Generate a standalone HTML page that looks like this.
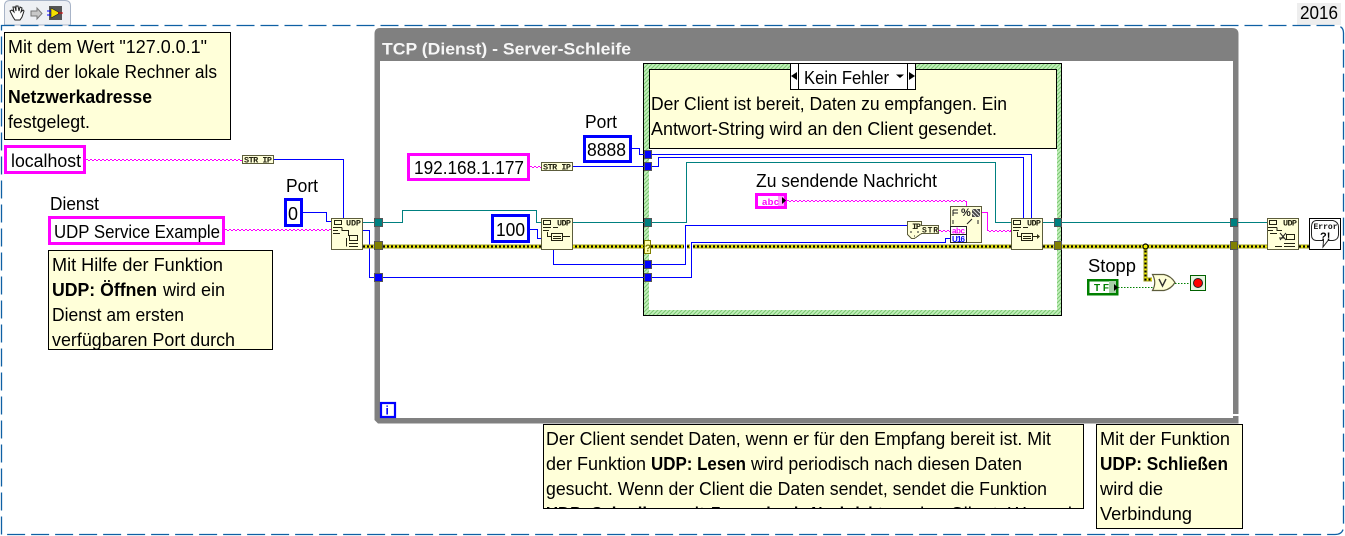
<!DOCTYPE html>
<html><head><meta charset="utf-8">
<style>
html,body{margin:0;padding:0;background:#fff;width:1345px;height:536px;overflow:hidden}
svg{display:block}
text{font-family:"Liberation Sans",sans-serif;font-size:18.5px;fill:#000;white-space:pre}
.b{font-weight:bold}
.t{font-family:"Liberation Mono",monospace;font-size:8.5px;font-weight:bold;fill:#222210}
.w{fill:none;shape-rendering:crispEdges}
.blue{stroke:#0000ff;stroke-width:1}
.teal{stroke:#008080;stroke-width:1}
.pk1{stroke:#ff00ff;stroke-width:1;stroke-dasharray:2 2}
.pk2{stroke:#ff00ff;stroke-width:1;stroke-dasharray:2 2;stroke-dashoffset:2}
.pk3{stroke:#ff00ff;stroke-width:1}
.term{stroke:#555;stroke-width:1;shape-rendering:crispEdges}
.node{fill:#ffffd8;stroke:#5c5c3c;stroke-width:1.4;shape-rendering:crispEdges}
.ic{fill:none;stroke:#222210;stroke-width:1;shape-rendering:crispEdges}
.note{fill:#ffffd9;stroke:#000;stroke-width:1;shape-rendering:crispEdges}
.mag{fill:#fff;stroke:#ff00ff;stroke-width:3;shape-rendering:crispEdges}
.blu{fill:#fff;stroke:#0000ff;stroke-width:3;shape-rendering:crispEdges}
</style></head><body>
<svg width="1345" height="536" viewBox="0 0 1345 536" xmlns="http://www.w3.org/2000/svg">
<defs>
<pattern id="h" width="4" height="4" patternUnits="userSpaceOnUse">
<rect width="4" height="4" fill="#c4f0bc"/>
<path d="M0 4L4 0M-1 1L1 -1M3 5L5 3" stroke="#7cc874" stroke-width="1.1"/>
</pattern>
<clipPath id="c4"><rect x="544" y="425" width="540" height="84"/></clipPath>
<clipPath id="c3"><rect x="49" y="251" width="224" height="98"/></clipPath>
</defs>
<rect width="1345" height="536" fill="#fff"/>

<!-- tabs -->
<path d="M4.5 25V6Q4.5 0.5 10 0.5H65Q70.5 0.5 70.5 6V25Z" fill="#eef0f4" stroke="#a8b4c8"/>
<rect x="1297" y="3" width="44" height="22" fill="#eeeeee"/>
<!-- dashed frame -->
<path d="M1.5 534.5V25.5H1335Q1343.5 25.5 1343.5 33V526Q1343.5 534.5 1335 534.5Z" fill="none" stroke="#0f60a4" stroke-width="1.3" stroke-dasharray="18 6"/>
<text x="1300" y="19" textLength="38" lengthAdjust="spacingAndGlyphs">2016</text>

<!-- toolbar icons -->
<path d="M13 17L10 11L12 10L14 12L13 7L15 7L16 11L16 6L18 6L19 11L20 7L22 8L21 12L23 10L24 11L22 17L20 20H15Z" fill="#fff" stroke="#222" stroke-width="1"/>
<path d="M31 11H37V8L42 13.5L37 19V16H31Z" fill="#c8c8c8" stroke="#777"/>
<rect x="49" y="6" width="13" height="14" fill="#555"/>
<path d="M51 8L60 13L51 18Z" fill="#f4e000" stroke="#222" stroke-width=".6"/>
<path d="M47 11H51M47 15H51" stroke="#0000ff"/><path d="M58 13H63" stroke="#e00000"/>

<!-- while loop -->
<path fill-rule="evenodd" fill="#808080" d="M374.5 34Q374.5 28 380 28H1232Q1238.5 28 1238.5 34V414H1233V416H1238.5V423.5H378L374.5 420ZM380 61V418H1233V61Z"/>
<text x="382" y="54.500" class="b" style="fill:#f6f6f6;font-size:17px" textLength="249" lengthAdjust="spacingAndGlyphs">TCP (Dienst) - Server-Schleife</text>
<rect x="381" y="403" width="14" height="14" fill="#fff" stroke="#0000ff" stroke-width="2.200"/>
<text x="385.500" y="414.500" class="b" style="font-size:12px;fill:#0000ff">i</text>

<!-- case structure -->
<rect x="643.500" y="63.500" width="418" height="252" fill="url(#h)" stroke="#000" shape-rendering="crispEdges"/>
<rect x="649" y="149" width="408" height="161" fill="#fff"/>
<rect x="649.500" y="69.500" width="407" height="79" class="note"/>
<text x="651" y="110" textLength="356" lengthAdjust="spacingAndGlyphs">Der Client ist bereit, Daten zu empfangen. Ein</text>
<text x="651" y="135" textLength="346" lengthAdjust="spacingAndGlyphs">Antwort-String wird an den Client gesendet.</text>
<rect x="790.500" y="63.500" width="125" height="26" fill="#fff" stroke="#000" shape-rendering="crispEdges"/>
<path d="M798.500 64V89M907.500 64V89" stroke="#000" shape-rendering="crispEdges"/>
<text x="804" y="84" textLength="85" lengthAdjust="spacingAndGlyphs">Kein Fehler</text>
<path d="M791 76L797 72V80ZM915 76L909 72V80ZM896 74.500H904L900 78Z" fill="#000"/>

<!-- notes -->
<rect x="4.500" y="32.500" width="226" height="107" class="note"/>
<text x="8" y="53" textLength="199" lengthAdjust="spacingAndGlyphs">Mit dem Wert "127.0.0.1"</text>
<text x="8" y="78" textLength="209" lengthAdjust="spacingAndGlyphs">wird der lokale Rechner als</text>
<text x="8" y="103" class="b" textLength="144" lengthAdjust="spacingAndGlyphs">Netzwerkadresse</text>
<text x="8" y="128" textLength="82" lengthAdjust="spacingAndGlyphs">festgelegt.</text>

<rect x="48.500" y="250.500" width="224" height="99" class="note"/>
<g clip-path="url(#c3)">
<text x="52" y="271" textLength="171" lengthAdjust="spacingAndGlyphs">Mit Hilfe der Funktion</text>
<text x="52" y="296" class="b" textLength="105" lengthAdjust="spacingAndGlyphs">UDP: Öffnen</text>
<text x="163" y="296" textLength="62" lengthAdjust="spacingAndGlyphs">wird ein</text>
<text x="52" y="321" textLength="132" lengthAdjust="spacingAndGlyphs">Dienst am ersten</text>
<text x="52" y="346" textLength="183" lengthAdjust="spacingAndGlyphs">verfügbaren Port durch</text>
</g>

<rect x="543.500" y="424.500" width="540" height="84" class="note"/>
<g clip-path="url(#c4)">
<text x="546" y="445" textLength="505" lengthAdjust="spacingAndGlyphs">Der Client sendet Daten, wenn er für den Empfang bereit ist. Mit</text>
<text x="546" y="470" textLength="100" lengthAdjust="spacingAndGlyphs">der Funktion</text>
<text x="651" y="470" class="b" textLength="95" lengthAdjust="spacingAndGlyphs">UDP: Lesen</text>
<text x="751" y="470" textLength="271" lengthAdjust="spacingAndGlyphs">wird periodisch nach diesen Daten</text>
<text x="546" y="495" textLength="501" lengthAdjust="spacingAndGlyphs">gesucht. Wenn der Client die Daten sendet, sendet die Funktion</text>
<text x="546" y="520" class="b" textLength="126" lengthAdjust="spacingAndGlyphs">UDP: Schreiben</text>
<text x="677" y="520" textLength="28" lengthAdjust="spacingAndGlyphs">mit</text>
<text x="711" y="520" class="b" textLength="172" lengthAdjust="spacingAndGlyphs">Zu sendende Nachricht</text>
<text x="888" y="520" textLength="184" lengthAdjust="spacingAndGlyphs">an den Client. Wenn d</text>
</g>

<rect x="1096.500" y="424.500" width="146" height="104" class="note"/>
<text x="1100" y="445" textLength="130" lengthAdjust="spacingAndGlyphs">Mit der Funktion</text>
<text x="1100" y="470" class="b" textLength="128" lengthAdjust="spacingAndGlyphs">UDP: Schließen</text>
<text x="1100" y="495" textLength="63" lengthAdjust="spacingAndGlyphs">wird die</text>
<text x="1100" y="520" textLength="92" lengthAdjust="spacingAndGlyphs">Verbindung</text>

<!-- blue wires -->
<path class="w blue" d="M274 159.500H343.500V218"/>
<path class="w blue" d="M303 212.500H326.500V221.500H331"/>
<path class="w blue" d="M363 230.500H369.500V277.500H644"/>
<path class="w blue" d="M652 277.500H691.500V242.500H945.500V238.500H951"/>
<path class="w blue" d="M553.500 249V264.500H644"/>
<path class="w blue" d="M652 264.500H685.500V225.500H907"/>
<path class="w blue" d="M529 229.500H537.500V238.500H541"/>
<path class="w blue" d="M632 148.500H639.500V154.500H644"/>
<path class="w blue" d="M573 166.500H644"/>
<path class="w blue" d="M652 154.500H1031.500V218"/>
<path class="w blue" d="M652 166.500H658.500V157.500H1023.500V218"/>

<!-- teal wires -->
<path class="w teal" d="M363 222.500H402.500V210.500H536.500V222.500H541"/>
<path class="w teal" d="M573 222.500H686.500V162.500H995.500V222.500H1011"/>
<path class="w teal" d="M1043 222.500H1267"/>

<!-- error wires -->
<g class="w">
<path d="M363 246.500H684M687 246.500H690M693 246.500H1011M1043 246.500H1267M1299 246.500H1309M1145.500 246.500V279.500H1152" stroke="#a0a020" stroke-width="4"/>
<path d="M363 246.500H684M687 246.500H690M693 246.500H1011M1043 246.500H1267M1299 246.500H1309M1145.500 246.500V279.500H1152" stroke="#f8f400" stroke-width="2"/>
<path d="M363 246.500H684M687 246.500H690M693 246.500H1011M1043 246.500H1267M1299 246.500H1309M1145.500 246.500V279.500H1152" stroke="#000" stroke-width="2" stroke-dasharray="2 2"/>
</g>
<circle cx="1145.500" cy="246.500" r="2.500" fill="#f4f000" stroke="#000" stroke-width="1.200"/>

<!-- string wires -->
<g class="w">
<path class="pk3" d="M966.500 201V206M982 212.500H987.500V231M1011 230.500H1010"/>
<path class="pk1" d="M86 159.500H242M225 229.500H331M530 166.500H541M787 200.500H967M987 230.500H1011M939 230.500H950"/>
<path class="pk2" d="M86 160.500H242M225 230.500H331M530 167.500H541M787 201.500H967M987 231.500H1011M939 231.500H950"/>
</g>

<!-- green dotted wires -->
<path d="M1118 287.500H1154M1175 283.500H1190" fill="none" stroke="#008000" stroke-width="1" stroke-dasharray="1.500 1.500" shape-rendering="crispEdges"/>

<!-- constants -->
<rect x="5.500" y="146.500" width="79" height="26" class="mag"/>
<text x="11" y="167" textLength="70" lengthAdjust="spacingAndGlyphs">localhost</text>
<text x="50" y="210" textLength="49" lengthAdjust="spacingAndGlyphs">Dienst</text>
<rect x="49.500" y="217.500" width="174" height="26" class="mag"/>
<text x="54" y="238" textLength="166" lengthAdjust="spacingAndGlyphs">UDP Service Example</text>
<text x="286" y="192" textLength="32" lengthAdjust="spacingAndGlyphs">Port</text>
<rect x="285.500" y="199.500" width="16" height="26" class="blu"/>
<text x="288" y="220" textLength="10" lengthAdjust="spacingAndGlyphs">0</text>
<rect x="408.500" y="154.500" width="120" height="25" class="mag"/>
<text x="414" y="174" textLength="110" lengthAdjust="spacingAndGlyphs">192.168.1.177</text>
<text x="585" y="128" textLength="32" lengthAdjust="spacingAndGlyphs">Port</text>
<rect x="584.500" y="136.500" width="46" height="25" class="blu"/>
<text x="587" y="156" textLength="39" lengthAdjust="spacingAndGlyphs">8888</text>
<rect x="492.500" y="215.500" width="36" height="26" class="blu"/>
<text x="496" y="236" textLength="29" lengthAdjust="spacingAndGlyphs">100</text>
<text x="756" y="187" textLength="181" lengthAdjust="spacingAndGlyphs">Zu sendende Nachricht</text>
<rect x="756.500" y="194.500" width="29" height="13" fill="#fff" stroke="#ff00ff" stroke-width="3" shape-rendering="crispEdges"/>
<rect x="778" y="196" width="6" height="10" fill="#ffa0ff"/>
<text x="762" y="205" class="b" style="font-size:9.500px;fill:#ff00ff" textLength="17">abc</text>
<path d="M782 197L786 200.500L782 204Z" fill="#000"/>
<text x="1088" y="272" textLength="48" lengthAdjust="spacingAndGlyphs">Stopp</text>
<rect x="1088" y="280" width="29" height="14" fill="#fff" stroke="#008000" stroke-width="2.500" shape-rendering="crispEdges"/>
<rect x="1109" y="281" width="7" height="12" fill="#a8d0a8"/>
<text x="1094" y="291" class="b" style="font-size:10px;fill:#008000" textLength="15">TF</text>
<path d="M1114 284L1118 287.500L1114 291Z" fill="#000"/>

<!-- terminals -->
<g class="term">
<rect x="374.500" y="218.500" width="8" height="8" fill="#008080"/>
<rect x="374.500" y="241.500" width="8" height="8" fill="#808000"/>
<rect x="374.500" y="273.500" width="8" height="8" fill="#0000ff"/>
<rect x="644.500" y="150.500" width="7" height="8" fill="#0000ff"/>
<rect x="644.500" y="162.500" width="7" height="8" fill="#0000ff"/>
<rect x="644.500" y="218.500" width="7" height="8" fill="#008080"/>
<rect x="644.500" y="260.500" width="7" height="8" fill="#0000ff"/>
<rect x="644.500" y="273.500" width="7" height="8" fill="#0000ff"/>
<rect x="1054.500" y="218.500" width="7" height="8" fill="#008080"/>
<rect x="1054.500" y="241.500" width="7" height="8" fill="#808000"/>
<rect x="1230.500" y="218.500" width="7" height="8" fill="#008080"/>
<rect x="1230.500" y="241.500" width="7" height="8" fill="#808000"/>
</g>
<rect x="644.500" y="240.500" width="6" height="13" fill="#ffffb0" stroke="#808000" shape-rendering="crispEdges"/>
<text x="644.800" y="251.500" style="font-size:10.500px;fill:#808000" class="b">?</text>

<!-- primitive: STR IP -->
<rect x="242.500" y="155.500" width="31" height="8" fill="#ffffd8" stroke="#5c5c3c" shape-rendering="crispEdges"/>
<text x="244" y="162.300" class="t" textLength="28" lengthAdjust="spacing">STR IP</text>
<rect x="541.500" y="162.500" width="31" height="8" fill="#ffffd8" stroke="#5c5c3c" shape-rendering="crispEdges"/>
<text x="543" y="169.300" class="t" textLength="28" lengthAdjust="spacing">STR IP</text>

<!-- UDP open -->
<rect x="331.500" y="218.500" width="31" height="31" class="node"/>
<text x="346" y="225.500" class="t" textLength="15">UDP</text>
<g class="ic"><rect x="334.500" y="220.500" width="7" height="4"/><path d="M333 227.500H342M342 227.500V230.500H348.500V236M333 230.500H338M333 233.500H340"/><rect x="349.500" y="235.500" width="8" height="5"/><path d="M349 243.500H358M349 246.500H358M346.500 238V246.500"/></g>

<!-- UDP read -->
<rect x="541.500" y="218.500" width="31" height="31" class="node"/>
<text x="557" y="225.500" class="t" textLength="14">UDP</text>
<g class="ic"><rect x="543.500" y="220.500" width="7" height="4"/><path d="M543 227.500H551M543 230.500H549M553 227.500H558M547.500 232V236.500H551"/><rect x="551.500" y="233.500" width="11" height="7"/><path d="M553 236.500H561M553 238.500H561M563 236.500H570"/></g>

<!-- UDP write -->
<rect x="1011.500" y="218.500" width="31" height="31" class="node"/>
<text x="1027" y="225.500" class="t" textLength="14">UDP</text>
<g class="ic"><rect x="1013.500" y="220.500" width="7" height="4"/><path d="M1013 227.500H1021M1013 230.500H1019M1023 227.500H1028M1017.500 232V236.500H1021"/><rect x="1021.500" y="233.500" width="11" height="7"/><path d="M1023 236.500H1031M1023 238.500H1031M1033 236.500H1039"/></g>
<path d="M1037 234L1040 236.500L1037 239Z" fill="#33331a"/>

<!-- UDP close -->
<rect x="1267.500" y="218.500" width="31" height="31" class="node"/>
<text x="1283" y="225.500" class="t" textLength="14">UDP</text>
<g class="ic"><rect x="1269.500" y="220.500" width="7" height="4"/><path d="M1268 227.500H1277M1277 227.500V230.500H1282M1268 230.500H1273M1270 233.500H1277M1279 238H1284M1275 246.500H1282"/><rect x="1286.500" y="234.500" width="8" height="5"/><path d="M1284 243.500H1295M1284 246.500H1295"/></g>
<path d="M1280 233L1286 240M1286 233L1280 240" stroke="#222" stroke-width="1"/>

<!-- Format into string -->
<rect x="950.500" y="206.500" width="31" height="36" class="node"/>
<path d="M953 210V216M953 210H958M953 213H958" stroke="#222" fill="none"/>
<text x="961" y="216" style="font-size:11px;font-weight:bold;fill:#222">%</text>
<rect x="972" y="209" width="8" height="8" fill="#444"/>
<path d="M972 209L980 217M976 209L980 213M972 213L976 217" stroke="#ddd"/>
<path d="M953 220V224M978 220V224M967 224L972 219" stroke="#222" fill="none"/>
<rect x="950.500" y="226.500" width="16" height="8" fill="#fff" stroke="#222" shape-rendering="crispEdges"/>
<rect x="950.500" y="234.500" width="16" height="8" fill="#fff" stroke="#222" shape-rendering="crispEdges"/>
<text x="952" y="233.500" class="b" style="font-size:8px;fill:#ff00ff" textLength="13">abc</text>
<text x="952" y="241.800" class="b" style="font-size:8px;fill:#0000ff" textLength="13">U16</text>

<!-- IP to STR -->
<path d="M907.500 221.500H921.500V225.500H938.500V233.500H921.500L914.500 238.500H911.500L907.500 234.500Z" fill="#ffffd8" stroke="#5c5c3c" shape-rendering="crispEdges"/>
<text x="912" y="229" class="t" textLength="9">IP</text>
<text x="922" y="232.500" class="t" style="font-size:8px" textLength="16">STR</text>
<path d="M910 232H912M917 232H919M914 236H915" stroke="#222"/>

<!-- Or -->
<path d="M1152.500 274.500H1164Q1171 276 1175 282.500Q1171 289 1164 290.500H1152.500Q1157 282.500 1152.500 274.500Z" fill="#ffffd8" stroke="#5c5c3c" stroke-width="1.200"/>
<path d="M1159 279L1162.500 286L1166 279" fill="none" stroke="#333" stroke-width="1.400"/>

<!-- Stop -->
<rect x="1190.500" y="275.500" width="15" height="15" fill="#e8f4e0" stroke="#006000" shape-rendering="crispEdges"/>
<circle cx="1198" cy="283" r="4.500" fill="#ff0000" stroke="#222"/>

<!-- Error handler -->
<rect x="1309.500" y="218.500" width="31" height="31" fill="#fff" stroke="#000" shape-rendering="crispEdges"/>
<path d="M1316 220.500H1333Q1338.500 222 1338.500 227V235Q1338 240 1333 240.500H1328L1323 247L1323.500 240.500H1316Q1311.500 240 1311.500 235V226Q1312 221 1316 220.500Z" fill="#fff" stroke="#222"/>
<text x="1313.500" y="229" class="t" style="font-size:8px;fill:#111" textLength="24">Error</text>
<text x="1320" y="240" class="b" style="font-size:11px">?!</text>
</svg>
</body></html>
